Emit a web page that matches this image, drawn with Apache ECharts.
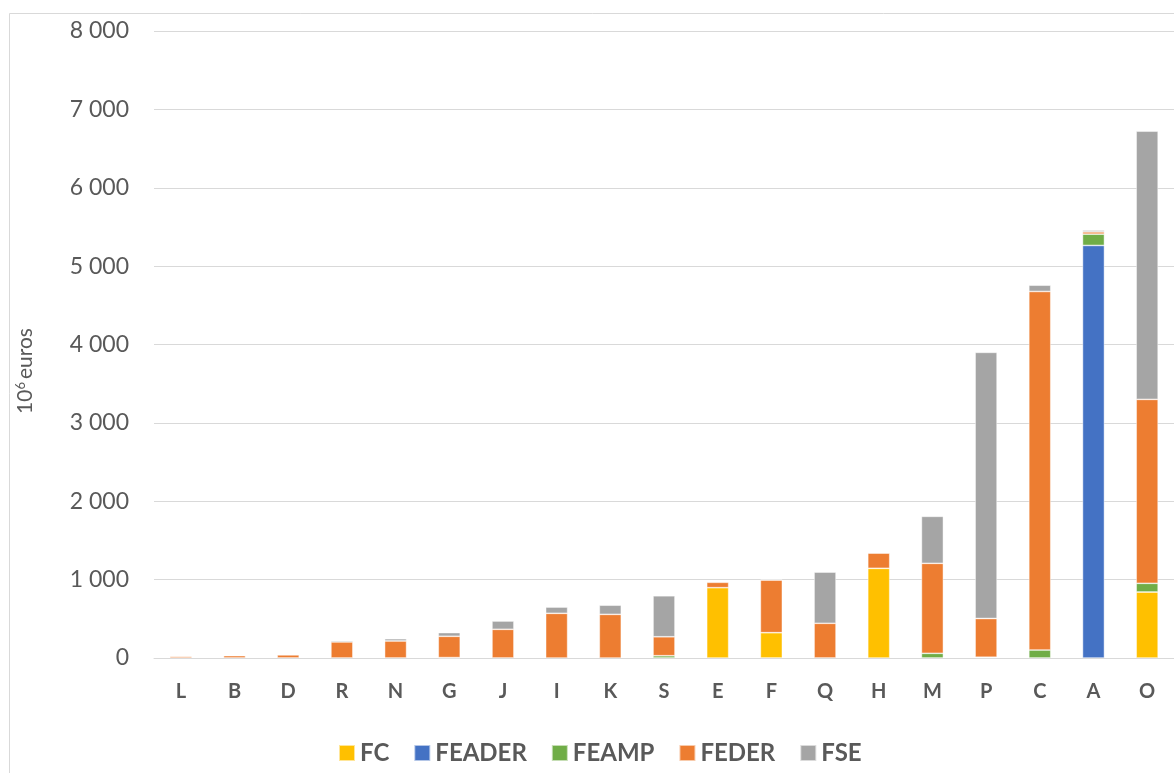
<!DOCTYPE html>
<html>
<head>
<meta charset="utf-8">
<script src="https://cdn.jsdelivr.net/npm/echarts@6/dist/echarts.min.js"></script>
<style>
html,body{margin:0;padding:0;background:#fff;}
#chart{width:1174px;height:773px;}
</style>
</head>
<body>
<div id="chart"></div>
<script>
const categories = ['L','B','D','R','N','G','J','I','K','S','E','F','Q','H','M','P','C','A','O'];
const FC     = [0,0,0,0,0,0,0,0,0,0,897,323,0,1144,0,0,0,0,842];
const FEADER = [0,0,0,0,0,0,0,0,0,0,0,0,0,0,0,0,0,5264,0];
const FEAMP  = [0,0,0,0,0,5,0,0,0,29,0,0,0,0,60,10,102,144,111];
const FEDER  = [20,30,40,205,217,272,366,570,557,242,69,672,443,195,1148,494,4575,29,2347];
const FSE    = [0,0,0,17,29,47,106,80,117,523,0,13,654,8,600,3396,80,22,3422];
const yTicks = [0,1000,2000,3000,4000,5000,6000,7000,8000];

const seriesDefs = [
  {name:'FC', data:FC, color:'#FFC000'},
  {name:'FEADER', data:FEADER, color:'#4472C4'},
  {name:'FEAMP', data:FEAMP, color:'#70AD47'},
  {name:'FEDER', data:FEDER, color:'#ED7D31'},
  {name:'FSE', data:FSE, color:'#A5A5A5'}
];

const chart = echarts.init(document.getElementById('chart'));
const fmt = v => String(v).replace(/\B(?=(\d{3})+(?!\d))/g, ' ');

chart.setOption({
  animation:false,
  backgroundColor:'#fff',
  grid:{left:154, top:31, width:1021, height:627},
  legend:{
    left:333, top:736, itemWidth:16, itemHeight:16, itemGap:24,
    icon:'rect',
    textStyle:{fontFamily:'Lato', fontWeight:'bold', fontSize:24, color:'#595959'},
    data: seriesDefs.map(s=>s.name)
  },
  xAxis:{
    type:'category', data:categories,
    axisTick:{show:false},
    axisLine:{lineStyle:{color:'#d9d9d9', width:1}},
    axisLabel:{fontFamily:'Lato', fontWeight:'bold', fontSize:20, color:'#595959', margin:24}
  },
  yAxis:{
    type:'value', min:yTicks[0], max:yTicks[yTicks.length-1], interval:1000,
    name:'{a|10}{s|6}{a|euros}', nameLocation:'middle', nameGap:117, nameRotate:90,
    nameTextStyle:{
      padding:[0,53,0,0],
      rich:{
        a:{fontFamily:'Lato', fontSize:21, color:'#595959'},
        s:{fontFamily:'Lato', fontSize:13, color:'#595959', padding:[0,3,10,0]}
      }
    },
    axisLine:{show:false}, axisTick:{show:false},
    splitLine:{lineStyle:{color:'#d9d9d9', width:1}},
    axisLabel:{fontFamily:'Lato', fontSize:23, color:'#595959', margin:25, formatter:fmt}
  },
  graphic:[
    {type:'rect', shape:{x:9.5, y:13.5, width:1180, height:800}, style:{fill:'none', stroke:'#d9d9d9', lineWidth:1}, silent:true}
  ],
  series: seriesDefs.map(s=>({
    name:s.name, type:'bar', stack:'total', barWidth:22,
    data:s.data.map(v=>v===0?null:v),
    itemStyle:{color:s.color, borderColor:'rgba(255,255,255,0.6)', borderWidth:0.75}
  }))
});
</script>
</body>
</html>
